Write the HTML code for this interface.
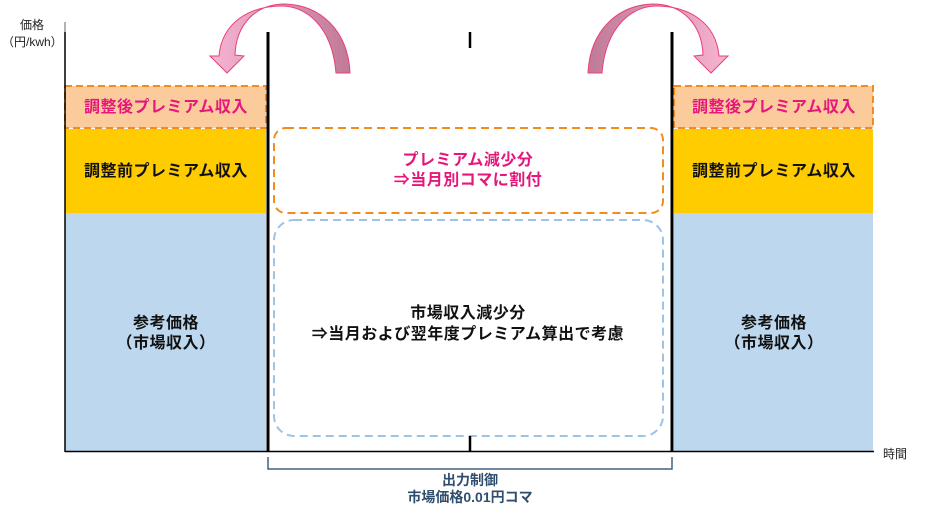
<!DOCTYPE html>
<html><head><meta charset="utf-8"><style>
body{margin:0;background:#fff;width:940px;height:506px;overflow:hidden;font-family:"Liberation Sans","Noto Sans CJK JP",sans-serif}
</style></head><body>
<svg width="940" height="506" viewBox="0 0 940 506" xmlns="http://www.w3.org/2000/svg" font-family="Liberation Sans, Noto Sans CJK JP, sans-serif">
<defs>
<linearGradient id="g1" x1="1" y1="0" x2="0" y2="0"><stop offset="0" stop-color="#c07a98"/><stop offset="1" stop-color="#f7b3d2"/></linearGradient>
<linearGradient id="g2" x1="0" y1="0" x2="1" y2="0"><stop offset="0" stop-color="#c07a98"/><stop offset="1" stop-color="#f7b3d2"/></linearGradient>
</defs>
<rect x="65" y="86" width="201" height="42" fill="#fbcb9c" stroke="#f28c1e" stroke-width="2" stroke-dasharray="7,4"/>
<rect x="65" y="129" width="201" height="84" fill="#ffcc00"/>
<rect x="65" y="213" width="201" height="238" fill="#bdd7ee"/>
<rect x="674" y="86" width="199" height="42" fill="#fbcb9c" stroke="#f28c1e" stroke-width="2" stroke-dasharray="7,4"/>
<rect x="674" y="129" width="199" height="84" fill="#ffcc00"/>
<rect x="674" y="213" width="199" height="238" fill="#bdd7ee"/>
<rect x="274" y="128" width="389" height="85" rx="12" fill="none" stroke="#f28c1e" stroke-width="2" stroke-dasharray="8,5"/>
<rect x="274" y="220" width="389" height="216" rx="20" fill="none" stroke="#9dc3e6" stroke-width="2" stroke-dasharray="8,5"/>
<line x1="65" y1="22" x2="65" y2="452" stroke="#666" stroke-width="1"/>
<line x1="65" y1="32" x2="65" y2="452" stroke="#000" stroke-width="1.5"/>
<line x1="65" y1="451.5" x2="874" y2="451.5" stroke="#000" stroke-width="1.5"/>
<line x1="268" y1="32" x2="268" y2="452" stroke="#000" stroke-width="3"/>
<line x1="672" y1="32" x2="672" y2="452" stroke="#000" stroke-width="3"/>
<line x1="470" y1="32" x2="470" y2="48" stroke="#000" stroke-width="2.5"/>
<line x1="470" y1="436" x2="470" y2="452" stroke="#000" stroke-width="2.5"/>
<path d="M268,457 V469 H672 V457" fill="none" stroke="#44607e" stroke-width="1.5"/>
<path d="M350,73 C348,30 320,5 285,4 C255,4 236,25 235,55 L244,56 L227,73 L210,56 L219,56 C222,22 250,6 282,6 C304,6 332,24 336,73 Z" fill="url(#g1)" stroke="#e8407a" stroke-width="1"/>
<path d="M588,73 C590,30 618,5 653,4 C683,4 702,25 703,55 L694,56 L711,73 L728,56 L719,56 C716,22 688,6 656,6 C634,6 606,24 602,73 Z" fill="url(#g2)" stroke="#e8407a" stroke-width="1"/>
<g font-size="12" fill="#222">
<text x="20" y="29">価格</text>
<text x="2" y="46">（円/kwh）</text>
<text x="883" y="458">時間</text>
</g>
<g font-size="16" font-weight="bold" text-anchor="middle" letter-spacing="0.5">
<text x="166" y="112" fill="#e6177a">調整後プレミアム収入</text>
<text x="774" y="112" fill="#e6177a">調整後プレミアム収入</text>
<text x="166" y="176" fill="#111">調整前プレミアム収入</text>
<text x="774" y="176" fill="#111">調整前プレミアム収入</text>
<text x="166" y="328" fill="#111">参考価格</text>
<text x="166" y="348" fill="#111">（市場収入）</text>
<text x="774" y="328" fill="#111">参考価格</text>
<text x="774" y="348" fill="#111">（市場収入）</text>
<text x="468" y="165" fill="#e6177a">プレミアム減少分</text>
<text x="468" y="185" fill="#e6177a">⇒当月別コマに割付</text>
<text x="468" y="318" fill="#111">市場収入減少分</text>
<text x="468" y="339" fill="#111">⇒当月および翌年度プレミアム算出で考慮</text>
<text x="470" y="485" fill="#2f4e6e" font-size="14" letter-spacing="0">出力制御</text>
<text x="470" y="502" fill="#2f4e6e" font-size="14" letter-spacing="0">市場価格0.01円コマ</text>
</g>
</svg>
</body></html>
